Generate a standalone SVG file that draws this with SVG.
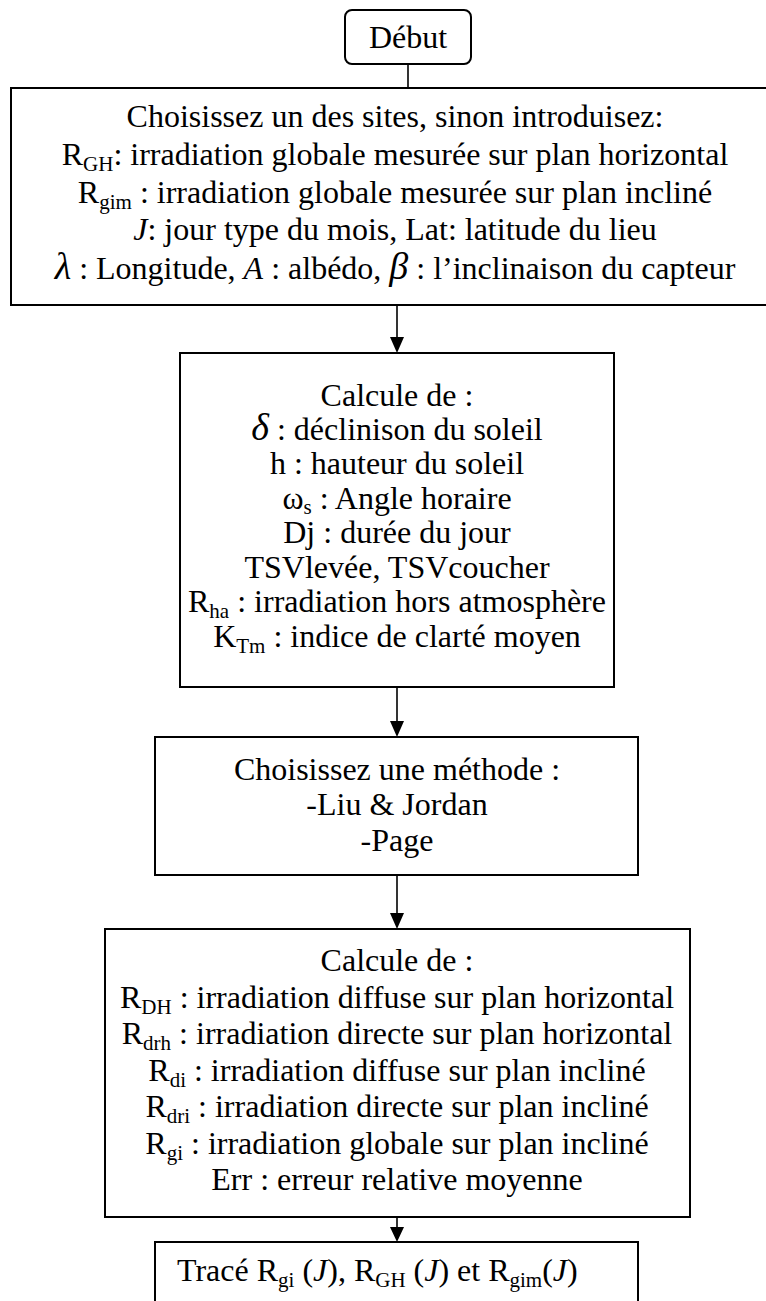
<svg xmlns="http://www.w3.org/2000/svg" width="766" height="1301" viewBox="0 0 766 1301">
<style>
.box{fill:#fff;stroke:#000;stroke-width:2}
.t{font-family:"Liberation Serif","Times New Roman",serif;font-size:32px;fill:#000;text-anchor:middle}
.tl{font-family:"Liberation Serif","Times New Roman",serif;font-size:32px;fill:#000}
.conn{stroke:#000;stroke-width:1.6;fill:none}
.head{fill:#000}
.gr{font-family:"Liberation Serif","DejaVu Serif",serif;font-style:italic;font-size:38px}
.sub{font-size:21px}
</style>
<rect width="766" height="1301" fill="#fff"/>
<g id="connectors">
<line class="conn" x1="408" y1="64" x2="408" y2="88"/>
<path class="conn" d="M397,305 V337"/>
<path class="head" d="M390,337 L404,337 L397,353 Z"/>
<path class="conn" d="M397,687 V721"/>
<path class="head" d="M390,721 L404,721 L397,737 Z"/>
<path class="conn" d="M397,875 V913"/>
<path class="head" d="M390,913 L404,913 L397,929 Z"/>
<path class="conn" d="M397,1217 V1227"/>
<path class="head" d="M390,1227 L404,1227 L397,1242 Z"/>
</g>
<g id="debut">
<rect class="box" x="345" y="10" width="126" height="54" rx="7"/>
<text class="t" x="408" y="48">Début</text>
</g>
<g id="inputs">
<rect class="box" x="11" y="88" width="770" height="217"/>
<text class="t" x="395" y="127">Choisissez un des sites, sinon introduisez:</text>
<text class="t" x="395" y="165">R<tspan class="sub" dy="6">GH</tspan><tspan dy="-6">: irradiation globale mesurée sur plan horizontal</tspan></text>
<text class="t" x="395" y="203">R<tspan class="sub" dy="6">gim</tspan><tspan dy="-6"> : irradiation globale mesurée sur plan incliné</tspan></text>
<text class="t" x="395" y="240"><tspan font-style="italic">J</tspan>: jour type du mois, Lat: latitude du lieu</text>
<text class="t" x="395" y="279"><tspan class="gr">λ</tspan> : Longitude, <tspan font-style="italic">A</tspan> : albédo, <tspan class="gr">β</tspan> : l’inclinaison du capteur</text>
</g>
<g id="calcul1">
<rect class="box" x="180" y="353" width="434" height="334"/>
<text class="t" x="397" y="406">Calcule de :</text>
<text class="t" x="397" y="440"><tspan class="gr">δ</tspan> : déclinison du soleil</text>
<text class="t" x="397" y="474">h : hauteur du soleil</text>
<text class="t" x="397" y="509">ω<tspan class="sub" dy="5">s</tspan><tspan dy="-5"> : Angle horaire</tspan></text>
<text class="t" x="397" y="543">Dj : durée du jour</text>
<text class="t" x="397" y="578">TSVlevée, TSVcoucher</text>
<text class="t" x="397" y="612">R<tspan class="sub" dy="6">ha</tspan><tspan dy="-6"> : irradiation hors atmosphère</tspan></text>
<text class="t" x="397" y="647">K<tspan class="sub" dy="6">Tm</tspan><tspan dy="-6"> : indice de clarté moyen</tspan></text>
</g>
<g id="methode">
<rect class="box" x="155" y="737" width="483" height="138"/>
<text class="t" x="397" y="780">Choisissez une méthode :</text>
<text class="t" x="397" y="815">-Liu &amp; Jordan</text>
<text class="t" x="397" y="851">-Page</text>
</g>
<g id="calcul2">
<rect class="box" x="105" y="929" width="585" height="288"/>
<text class="t" x="397" y="971">Calcule de :</text>
<text class="t" x="397" y="1008">R<tspan class="sub" dy="6">DH</tspan><tspan dy="-6"> : irradiation diffuse sur plan horizontal</tspan></text>
<text class="t" x="397" y="1044">R<tspan class="sub" dy="6">drh</tspan><tspan dy="-6"> : irradiation directe sur plan horizontal</tspan></text>
<text class="t" x="397" y="1081">R<tspan class="sub" dy="6">di</tspan><tspan dy="-6"> : irradiation diffuse sur plan incliné</tspan></text>
<text class="t" x="397" y="1117">R<tspan class="sub" dy="6">dri</tspan><tspan dy="-6"> : irradiation directe sur plan incliné</tspan></text>
<text class="t" x="397" y="1154">R<tspan class="sub" dy="6">gi</tspan><tspan dy="-6"> : irradiation globale sur plan incliné</tspan></text>
<text class="t" x="397" y="1190">Err : erreur relative moyenne</text>
</g>
<g id="trace">
<rect class="box" x="155" y="1242" width="483" height="80"/>
<text class="tl" x="177" y="1281">Tracé R<tspan class="sub" dy="6">gi</tspan><tspan dy="-6"> (</tspan><tspan font-style="italic">J</tspan>), R<tspan class="sub" dy="6">GH</tspan><tspan dy="-6"> (</tspan><tspan font-style="italic">J</tspan>) et R<tspan class="sub" dy="6">gim</tspan><tspan dy="-6">(</tspan><tspan font-style="italic">J</tspan>)</text>
</g>
</svg>
